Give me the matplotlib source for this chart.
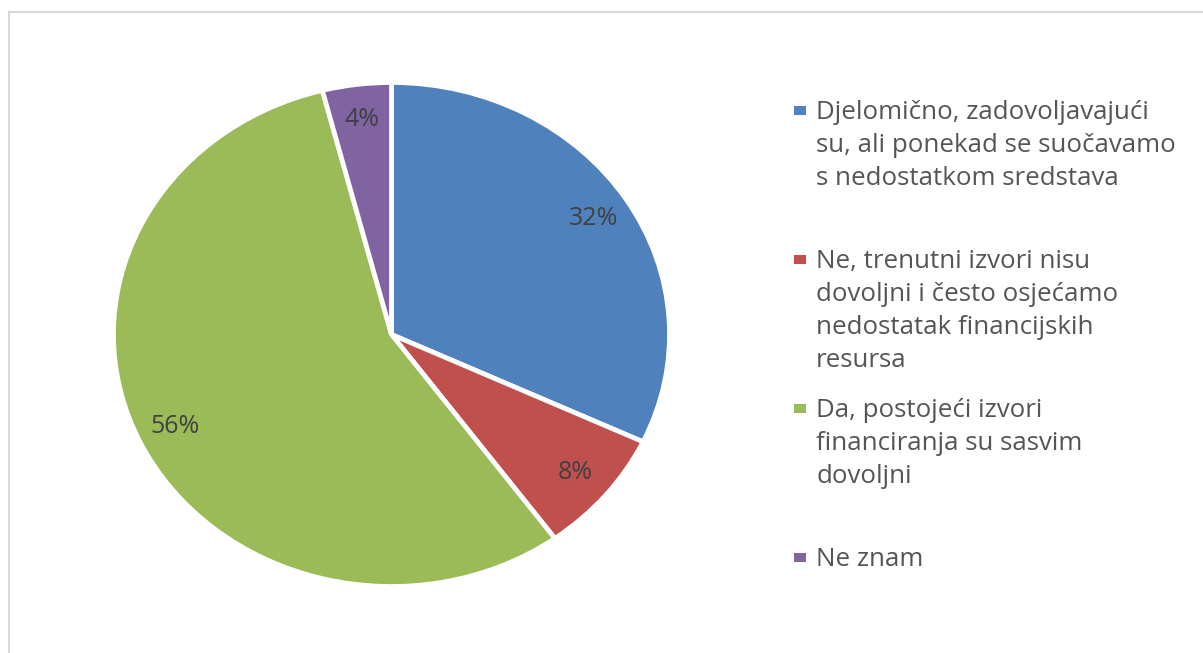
import matplotlib.pyplot as plt
from matplotlib.patches import Rectangle

# data
labels = [
    "Djelomično, zadovoljavajući\nsu, ali ponekad se suočavamo\ns nedostatkom sredstava",
    "Ne, trenutni izvori nisu\ndovoljni i često osjećamo\nnedostatak financijskih\nresursa",
    "Da, postojeći izvori\nfinanciranja su sasvim\ndovoljni",
    "Ne znam",
]
values = [32, 8, 56, 4]
colors = ["#4F81BD", "#C0504D", "#9BBB59", "#8064A2"]

plt.rcParams["font.family"] = ["Open Sans", "DejaVu Sans"]

W, H = 1203, 653
fig = plt.figure(figsize=(W / 100, H / 100), dpi=100)

# light grey chart frame (left and top edges visible)
fig.patches.append(Rectangle((8.5 / W, -0.1), 1.2, 1 - 11.5 / H + 0.1,
                             transform=fig.transFigure, fill=False,
                             edgecolor="#D9D9D9", linewidth=1.5))

# pie axes: the pie is drawn stretched horizontally (ellipse)
cx, cy = 391.5, 334.5
rx, ry = 278, 252
m = 1.1
ax = fig.add_axes([(cx - m * rx) / W, (H - cy - m * ry) / H,
                   2 * m * rx / W, 2 * m * ry / H])
wedges, texts, autotexts = ax.pie(
    values, colors=colors, startangle=90, counterclock=False,
    autopct="%d%%", pctdistance=0.86,
    wedgeprops=dict(edgecolor="white", linewidth=3.4),
    textprops=dict(color="#404040", fontsize=18))
ax.set_aspect("auto")
ax.set_xlim(-m, m)
ax.set_ylim(-m, m)
ax.axis("off")

# legend entries, evenly spaced by their first line
x_mark, x_text = 800, 816
y_first = 110.3
step = 149
line_h = 33
for i, (lab, col) in enumerate(zip(labels, colors)):
    yc = y_first + i * step
    fig.patches.append(Rectangle(((x_mark - 6.3) / W, 1 - (yc + 4.4) / H),
                                 12.6 / W, 8.8 / H, transform=fig.transFigure,
                                 facecolor=col, edgecolor="none"))
    for k, line in enumerate(lab.split("\n")):
        fig.text(x_text / W, 1 - (yc + 9 + k * line_h) / H, line,
                 fontsize=18.6, color="#555555", va="baseline", ha="left")

fig.savefig("out.png", dpi=100)
